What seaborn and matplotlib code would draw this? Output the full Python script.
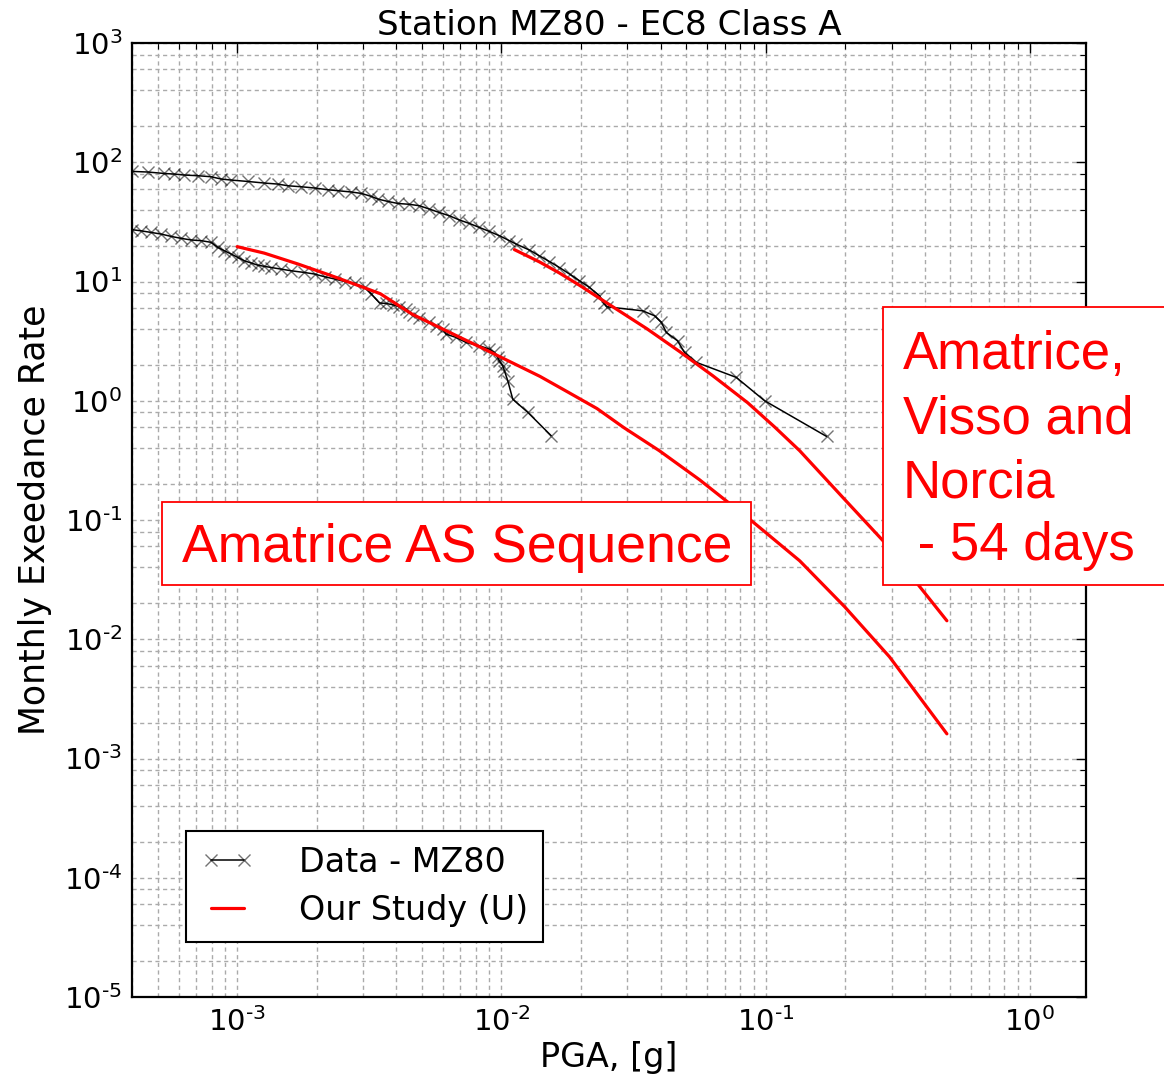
import matplotlib
matplotlib.use('Agg')
import matplotlib.pyplot as plt
import matplotlib.ticker as mticker
import matplotlib.patches as mpatches
import seaborn as sns
import numpy as np

# ---------------- data ----------------
# Data - MZ80 : Amatrice, Visso and Norcia (54 days)
up_x = [4.0e-4, 4.59e-4, 5.30e-4, 5.79e-4, 6.31e-4, 7.10e-4, 7.97e-4, 8.70e-4, 9.49e-4,
        1.098e-3, 1.269e-3, 1.426e-3, 1.556e-3, 1.748e-3, 1.963e-3, 2.206e-3, 2.407e-3,
        2.703e-3, 2.950e-3, 3.219e-3, 3.412e-3, 3.722e-3, 4.062e-3, 4.483e-3, 4.89e-3,
        5.34e-3, 5.82e-3, 6.35e-3, 6.93e-3, 7.56e-3, 8.25e-3, 9.00e-3, 9.83e-3, 1.072e-2,
        1.137e-2, 1.277e-2, 1.393e-2, 1.520e-2, 1.658e-2, 1.810e-2, 1.974e-2, 2.154e-2,
        2.35e-2, 2.435e-2, 2.50e-2, 3.42e-2, 3.80e-2, 4.03e-2, 4.21e-2, 4.64e-2, 4.93e-2,
        5.46e-2, 7.74e-2, 9.91e-2, 0.170]
up_y = [83.8, 82.8, 80.5, 79.6, 78.1, 77.1, 75.6, 72.3, 70.9,
        69.0, 66.9, 65.6, 63.5, 62.3, 60.8, 58.8, 57.7,
        56.3, 54.8, 51.7, 49.1, 46.9, 45.1, 44.4, 43.2,
        40.5, 37.9, 35.6, 32.8, 30.7, 28.4, 26.3, 24.2, 22.0,
        20.6, 18.35, 16.4, 14.7, 13.1, 11.55, 10.15, 8.92,
        7.60, 6.63, 6.14, 5.68, 5.16, 4.54, 3.74, 3.18, 2.54,
        2.10, 1.57, 1.0, 0.502]

# Data - MZ80 : Amatrice AS sequence
lo_x = [4.0e-4, 4.33e-4, 4.72e-4, 5.15e-4, 5.62e-4, 6.14e-4, 6.69e-4, 7.31e-4, 7.97e-4,
        8.45e-4, 8.95e-4, 9.49e-4, 1.006e-3, 1.066e-3, 1.130e-3, 1.198e-3, 1.269e-3,
        1.345e-3, 1.468e-3, 1.602e-3, 1.798e-3, 1.963e-3, 2.142e-3, 2.337e-3, 2.550e-3,
        2.782e-3, 3.035e-3, 3.219e-3, 3.459e-3, 3.66e-3, 3.88e-3, 4.11e-3, 4.36e-3,
        4.48e-3, 4.61e-3, 4.89e-3, 5.34e-3, 5.66e-3, 6.00e-3, 6.17e-3, 6.73e-3, 7.35e-3,
        8.25e-3, 9.00e-3, 9.41e-3, 9.68e-3, 9.83e-3, 1.011e-2, 1.027e-2, 1.057e-2,
        1.104e-2, 1.258e-2, 1.543e-2]
lo_y = [27.2, 26.6, 25.8, 25.0, 23.9, 23.0, 22.3, 22.0, 21.3,
        19.3, 18.1, 17.0, 15.9, 14.9, 14.3, 13.7, 13.4,
        13.1, 12.7, 12.3, 11.9, 11.55, 10.96, 10.5, 10.0,
        9.63, 8.92, 7.85, 6.60, 6.55, 6.38, 6.14, 5.87,
        5.50, 5.26, 4.99, 4.54, 4.26, 3.99, 3.62, 3.40, 3.08,
        2.89, 2.71, 2.54, 2.31, 2.16, 1.97, 1.78, 1.47,
        1.03, 0.80, 0.509]

# Our Study (U) : Amatrice, Visso and Norcia
ru_x = [1.12e-2, 1.393e-2, 1.656e-2, 1.974e-2, 2.50e-2, 3.55e-2, 4.73e-2, 6.31e-2,
        8.55e-2, 0.1079, 0.1345, 0.1963, 0.278, 0.383, 0.485]
ru_y = [18.5, 14.6, 11.8, 9.30, 6.63, 4.02, 2.58, 1.62,
        0.962, 0.605, 0.381, 0.1537, 0.067, 0.02756, 0.01429]

# Our Study (U) : Amatrice AS sequence
rl_x = [1.0e-3, 1.266e-3, 1.702e-3, 2.27e-3, 3.03e-3, 3.48e-3, 4.60e-3, 6.19e-3,
        8.25e-3, 1.10e-2, 1.40e-2, 1.80e-2, 2.30e-2, 2.91e-2, 3.96e-2, 5.62e-2, 8.93e-2,
        0.1345, 0.199, 0.294, 0.485]
rl_y = [19.6, 17.3, 14.0, 11.2, 8.86, 7.90, 5.31, 3.86,
        2.84, 2.08, 1.60, 1.17, 0.86, 0.594, 0.381, 0.2175, 0.0967,
        0.0455, 0.01873, 7.13e-3, 1.61e-3]

legend_labels = ['Data - MZ80', 'Our Study (U)']
title_text = 'Station MZ80 - EC8 Class A'
x_label = 'PGA, [g]'
y_label = 'Monthly Exeedance Rate'
box1_text = 'Amatrice AS Sequence'
box2_lines = ['Amatrice,', 'Visso and', 'Norcia', ' - 54 days']

# ---------------- style ----------------
sns.set_theme(style='white')
plt.rcParams['font.family'] = ['DejaVu Sans']
plt.rcParams['mathtext.default'] = 'regular'
plt.rcParams['mathtext.fontset'] = 'dejavusans'
plt.rcParams['axes.unicode_minus'] = False
plt.rcParams['text.color'] = 'black'
plt.rcParams['axes.labelcolor'] = 'black'
plt.rcParams['xtick.color'] = 'black'
plt.rcParams['ytick.color'] = 'black'

W, H = 1164, 1074
fig = plt.figure(figsize=(W / 100, H / 100), dpi=100)
fig.patch.set_facecolor('white')
ax = fig.add_axes([132 / W, (H - 997) / H, 954 / W, 954 / H])
ax.set_facecolor('white')
ax.set_xscale('log')
ax.set_yscale('log')

data_kw = dict(color='black', lw=1.1, marker='x', markersize=9, mew=1.0,
               mec=(0, 0, 0, 0.55), sort=False, estimator=None, legend=False)
sns.lineplot(x=up_x, y=up_y, ax=ax, **data_kw)
sns.lineplot(x=lo_x, y=lo_y, ax=ax, **data_kw)
red_kw = dict(color='red', lw=2.3, sort=False, estimator=None, legend=False)
sns.lineplot(x=ru_x, y=ru_y, ax=ax, **red_kw)
sns.lineplot(x=rl_x, y=rl_y, ax=ax, **red_kw)

ax.set_xlim(4e-4, 1.63)
ax.set_ylim(1e-5, 1e3)


def pow10_fmt(v, pos):
    e = int(round(np.log10(v)))
    if e < 0:
        return r'$10^{\text{-}%d}$' % (-e)
    return r'$10^{%d}$' % e


ax.xaxis.set_major_locator(mticker.LogLocator(base=10, numticks=20))
ax.xaxis.set_minor_locator(mticker.LogLocator(base=10, subs=np.arange(2, 10), numticks=60))
ax.yaxis.set_major_locator(mticker.LogLocator(base=10, numticks=20))
ax.yaxis.set_minor_locator(mticker.LogLocator(base=10, subs=[2, 4, 6, 8], numticks=60))
ax.xaxis.set_major_formatter(mticker.FuncFormatter(pow10_fmt))
ax.yaxis.set_major_formatter(mticker.FuncFormatter(pow10_fmt))
ax.xaxis.set_minor_formatter(mticker.NullFormatter())
ax.yaxis.set_minor_formatter(mticker.NullFormatter())

ax.grid(True, which='both', color='#aaaaaa', linestyle=(0, (3, 2.5)), linewidth=1.0)
ax.tick_params(which='both', direction='in', top=True, right=True, colors='black',
               labelcolor='black')
ax.tick_params(which='major', length=7, width=1, labelsize=21, pad=7)
ax.tick_params(which='minor', length=4, width=0.8)
for sp in ax.spines.values():
    sp.set_color('black')
    sp.set_linewidth(1.6)

ax.set_title(title_text, fontsize=24.6, pad=6, color='black')
ax.set_xlabel(x_label, fontsize=24, labelpad=3, color='black')
ax.set_ylabel(y_label, fontsize=25, labelpad=8.5, color='black')

lines = ax.get_lines()
leg = ax.legend([lines[0], lines[2]], legend_labels, loc='lower left',
                bbox_to_anchor=(54 / 954, 55 / 954), borderaxespad=0, numpoints=2,
                fontsize=24, frameon=True, fancybox=False, edgecolor='black',
                framealpha=1, handlelength=1.6, handletextpad=1.35, borderpad=0.45,
                labelspacing=0.45)
leg.get_frame().set_linewidth(1.5)
for t in leg.get_texts():
    t.set_color('black')

# ---------------- annotation boxes (figure pixel coordinates) ----------------
def fx(px):
    return px / W

def fy(py):
    return 1 - py / H

r1 = mpatches.Rectangle((fx(162), fy(585)), (751 - 162) / W, (585 - 502) / H,
                        transform=fig.transFigure, facecolor='white', edgecolor='red',
                        lw=1.3, zorder=5)
fig.add_artist(r1)
fig.text(fx(182), fy(562), box1_text, color='red', fontsize=38.5,
         family='Liberation Sans', va='baseline', ha='left', zorder=6)

r2 = mpatches.Rectangle((fx(883), fy(585)), (1180 - 883) / W, (585 - 307) / H,
                        transform=fig.transFigure, facecolor='white', edgecolor='red',
                        lw=1.3, zorder=5)
fig.add_artist(r2)
for txt, base in zip(box2_lines, [369, 433, 497, 560]):
    fig.text(fx(903), fy(base), txt, color='red', fontsize=38,
             family='Liberation Sans', va='baseline', ha='left', zorder=6)

fig.savefig('out.png', dpi=100, facecolor='white')
